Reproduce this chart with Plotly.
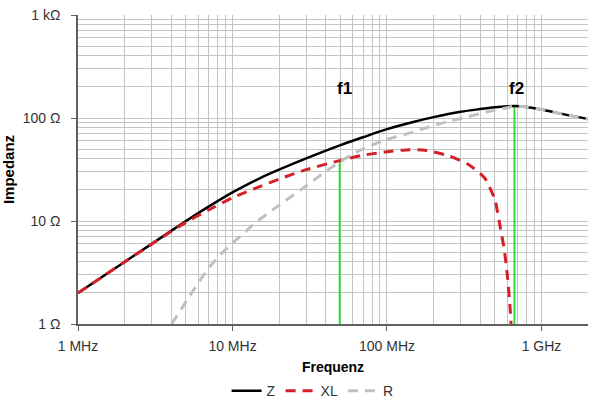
import math
import plotly.graph_objects as go

# Frequencies in MHz, impedances in Ohm
z_freq = [1, 2, 3, 5, 7, 10, 15, 20, 30, 50, 70, 100, 150, 200, 300, 400, 500,
          600, 668, 800, 1000, 1200, 1500, 2000]
z_vals = [2.0, 4.0, 6.0, 10.0, 13.8, 19.0, 26.0, 31.5, 40.5, 54.5, 65.0, 78.0, 92.0,
          102.0, 115.0, 122.0, 127.0, 130.0, 131.0, 128.0, 121.0, 114.0, 106.0, 98.0]

xl_freq = [1, 2, 4, 5, 7, 10, 15, 20, 30, 50, 70, 100, 140, 180, 250, 340, 430,
           500, 535, 575, 605, 627, 635]
xl_vals = [2.0, 4.0, 7.9, 9.7, 12.8, 16.8, 21.6, 25.5, 31.5, 38.8, 43.5, 47.0, 49.3,
           48.3, 43.0, 35.0, 26.0, 16.0, 9.5, 5.2, 2.7, 1.4, 1.0]

r_freq = [4.04, 5.56, 7.13, 8.91, 11.1, 14.3, 18.3, 23.4, 30.1, 38.5, 49.4, 63.4,
          94, 147, 219, 326, 460, 590, 668, 800, 1000, 1200, 1500, 2000]
r_vals = [1.0, 2.1, 3.6, 5.2, 7.0, 9.8, 12.9, 16.8, 22.0, 29.0, 37.5, 46.7, 60.0,
          73.0, 88.0, 102.0, 116.0, 125.0, 130.5, 128.0, 121.0, 114.0, 106.0, 98.0]

marker_names = ["f1", "f2"]
marker_freq = [49.4, 668]
marker_top = [38.0, 130.0]
marker_label_y = [195.0, 195.0]
marker_label_shift = [5, 2]

x_tickvals = [1, 10, 100, 1000]
x_ticktext = ["1 MHz", "10 MHz", "100 MHz", "1 GHz"]
y_tickvals = [1, 10, 100, 1000]
y_ticktext = ["1 Ω", "10 Ω", "100 Ω", "1 kΩ"]

FONT = "Liberation Sans, Arial, sans-serif"

x_minor = [m * d for d in [1, 10, 100, 1000] for m in range(2, 10) if m * d <= 2000]
y_minor = [m * d for d in [1, 10, 100] for m in range(2, 10)]

fig = go.Figure()

# resonance marker lines
for name, f, top in zip(marker_names, marker_freq, marker_top):
    fig.add_trace(go.Scatter(x=[f, f], y=[1, top], mode="lines",
                             line=dict(color="#33dd33", width=2),
                             showlegend=False, hoverinfo="skip"))

fig.add_trace(go.Scatter(x=z_freq, y=z_vals, name="Z", mode="lines",
                         line=dict(color="#000000", width=2.5, shape="spline", smoothing=0.8)))
fig.add_trace(go.Scatter(x=xl_freq, y=xl_vals, name="XL", mode="lines",
                         line=dict(color="#d42027", width=3, dash="10px,7px",
                                   shape="spline", smoothing=0.6)))
fig.add_trace(go.Scatter(x=r_freq, y=r_vals, name="R", mode="lines",
                         line=dict(color="#c0c0c0", width=3, dash="10px,7px",
                                   shape="spline", smoothing=0.8)))

for name, f, ly, sh in zip(marker_names, marker_freq, marker_label_y, marker_label_shift):
    fig.add_annotation(x=math.log10(f), y=math.log10(ly), xref="x", yref="y",
                       text="<b>" + name + "</b>",
                       showarrow=False, xanchor="center", yanchor="middle", xshift=sh,
                       font=dict(family=FONT, size=17, color="#000000"))

fig.update_xaxes(type="log", range=[0, 3.30103], automargin=False,
                 tickvals=x_tickvals, ticktext=x_ticktext,
                 showgrid=True, gridcolor="#c4c4c4", gridwidth=1,
                 showline=True, linecolor="#606060", linewidth=1.5,
                 ticks="outside", ticklen=5, tickcolor="#606060",
                 ticklabelstandoff=3,
                 tickfont=dict(family=FONT, size=14, color="#333333"),
                 minor=dict(tickvals=x_minor, showgrid=True, gridcolor="#c4c4c4",
                            gridwidth=1, ticks=""),
                 title=dict(text="<b>Frequenz</b>", standoff=10,
                            font=dict(family=FONT, size=14, color="#000000")),
                 zeroline=False)
fig.update_yaxes(type="log", range=[0, 3], automargin=False,
                 tickvals=y_tickvals, ticktext=y_ticktext,
                 showgrid=True, gridcolor="#c4c4c4", gridwidth=1,
                 showline=True, linecolor="#606060", linewidth=1.5,
                 ticks="outside", ticklen=5, tickcolor="#606060",
                 ticklabelstandoff=8,
                 tickfont=dict(family=FONT, size=14, color="#333333"),
                 minor=dict(tickvals=y_minor, showgrid=True, gridcolor="#c4c4c4",
                            gridwidth=1, ticks=""),
                 title=dict(text="<b>Impedanz</b>", standoff=10,
                            font=dict(family=FONT, size=15, color="#000000")),
                 zeroline=False)

fig.update_layout(
    width=600, height=405,
    margin=dict(l=78, r=12, t=15, b=81, autoexpand=False),
    paper_bgcolor="white", plot_bgcolor="white",
    showlegend=True,
    legend=dict(orientation="h", x=0.46, xanchor="center", y=-0.217, yanchor="middle",
                font=dict(family=FONT, size=14, color="#333333"),
                itemwidth=30, traceorder="normal", bgcolor="rgba(0,0,0,0)"),
    font=dict(family=FONT),
)

fig.write_html("out.html", config={"displayModeBar": False},
               post_script="document.body.style.margin='0';document.body.style.padding='0';")
